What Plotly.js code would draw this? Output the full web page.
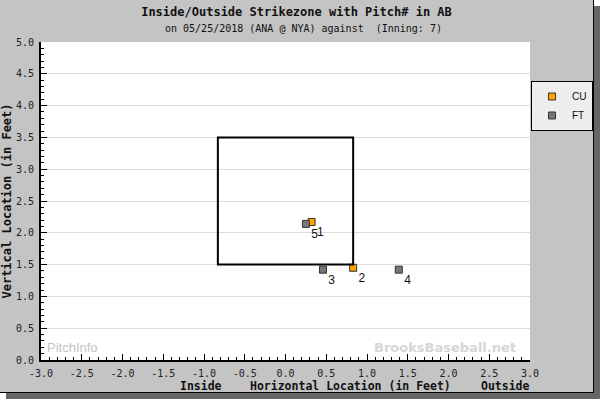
<!DOCTYPE html>
<html>
<head>
<meta charset="utf-8">
<script src="https://cdn.plot.ly/plotly-3.0.1.min.js"></script>
<style>
  html, body { margin: 0; padding: 0; background: #ffffff; }
  #wrap { position: absolute; left: 0; top: 0; width: 593px; height: 392px;
          border-right: 1px solid #000; border-bottom: 1px solid #000;
          box-shadow: 6px 6px 0 #666666; background: #c4c4c4; }
  #chart { width: 593px; height: 392px; }
</style>
</head>
<body>
<div id="wrap"><div id="chart"></div></div>
<script>
// Pitch data
const cuPitchNo = ["1", "2"];
const cuX = [0.32, 0.83];
const cuY = [2.17, 1.45];

const ftPitchNo = ["3", "4", "5"];
const ftX = [0.46, 1.39, 0.25];
const ftY = [1.42, 1.42, 2.14];

// Strike zone bounds
const zoneX = [-0.83, 0.83];
const zoneY = [1.5, 3.5];

// Axis ticks
const xTicks = [-3.0, -2.5, -2.0, -1.5, -1.0, -0.5, 0.0, 0.5, 1.0, 1.5, 2.0, 2.5, 3.0];
const yTicks = [0.0, 0.5, 1.0, 1.5, 2.0, 2.5, 3.0, 3.5, 4.0, 4.5, 5.0];

const mono = "DejaVu Sans Mono, Liberation Mono, monospace";

const traces = [
  {
    name: "CU", type: "scatter", mode: "markers+text",
    x: cuX, y: cuY, text: cuPitchNo, textposition: "bottom right",
    textfont: {family: "Liberation Sans, Arial, sans-serif", size: 12, color: "#111"},
    marker: {symbol: "square", size: 7, color: "#ffa500", line: {color: "#333", width: 1}},
    cliponaxis: false, hoverinfo: "x+y+text"
  },
  {
    name: "FT", type: "scatter", mode: "markers+text",
    x: ftX, y: ftY, text: ftPitchNo, textposition: "bottom right",
    textfont: {family: "Liberation Sans, Arial, sans-serif", size: 12, color: "#111"},
    marker: {symbol: "square", size: 7, color: "#777777", line: {color: "#333", width: 1}},
    cliponaxis: false, hoverinfo: "x+y+text"
  }
];

// plot area in pixels: x 41..530, y 42..360
const px = v => (v - 41) / 489;
const py = v => (360 - v) / 318;

const layout = {
  width: 593, height: 392,
  margin: {l: 41, r: 63, t: 42, b: 32, pad: 0},
  paper_bgcolor: "#c4c4c4",
  plot_bgcolor: "#ffffff",
  showlegend: true,
  title: {
    text: "<b>Inside/Outside Strikezone with Pitch# in AB</b>",
    font: {family: mono, size: 12, color: "#111"},
    x: 0.5, xref: "container", y: 1 - 12/392, yref: "container", yanchor: "middle"
  },
  xaxis: {
    range: [-3, 3], tickvals: xTicks, ticktext: xTicks.map(v => v.toFixed(1)),
    ticks: "inside", ticklen: 6, tickcolor: "#000", tickwidth: 1,
    minor: {dtick: 0.1, tick0: 0, ticks: "inside", ticklen: 3, tickcolor: "#000", showgrid: false},
    showgrid: false, zeroline: false,
    showline: true, linecolor: "#000", linewidth: 2, mirror: false,
    tickfont: {family: mono, size: 10, color: "#222"},
    ticklabelstandoff: 3,
    fixedrange: true
  },
  yaxis: {
    range: [0, 5], tickvals: yTicks, ticktext: yTicks.map(v => v.toFixed(1)),
    ticks: "inside", ticklen: 6, tickcolor: "#000", tickwidth: 1,
    minor: {dtick: 0.1, tick0: 0, ticks: "inside", ticklen: 3, tickcolor: "#000", showgrid: false},
    showgrid: true, gridcolor: "#dddddd", gridwidth: 1, zeroline: false,
    showline: true, linecolor: "#000", linewidth: 2, mirror: false,
    tickfont: {family: mono, size: 10, color: "#222"},
    ticklabelstandoff: 3,
    title: {text: "<b>Vertical Location (in Feet)</b>", font: {family: mono, size: 12, color: "#111"}, standoff: 2},
    fixedrange: true
  },
  legend: {
    xref: "container", yref: "container",
    x: 531 / 593, xanchor: "left", y: 1 - 81 / 392, yanchor: "top",
    bgcolor: "#eeeeee", bordercolor: "#000", borderwidth: 1,
    font: {family: "Liberation Sans, Arial, sans-serif", size: 10, color: "#111"},
    itemwidth: 30, tracegroupgap: 0
  },
  shapes: [
    {type: "rect", xref: "x", yref: "y", x0: zoneX[0], x1: zoneX[1], y0: zoneY[0], y1: zoneY[1],
     line: {color: "#000", width: 2}, fillcolor: "rgba(0,0,0,0)", layer: "above"},
    {type: "rect", xref: "paper", yref: "paper", x0: px(535), x1: px(594), y0: py(131), y1: py(86),
     line: {width: 0}, fillcolor: "#777777", layer: "above"}
  ],
  annotations: [
    {text: "on 05/25/2018 (ANA @ NYA) against  (Inning: 7)", xref: "paper", yref: "paper",
     x: px(303), y: py(29), showarrow: false, xanchor: "center", yanchor: "middle",
     font: {family: mono, size: 10, color: "#111"}},
    {text: "<b>Horizontal Location (in Feet)</b>", xref: "paper", yref: "paper",
     x: px(350), y: py(386), showarrow: false, xanchor: "center", yanchor: "middle",
     font: {family: mono, size: 11.5, color: "#111"}},
    {text: "<b>Inside</b>", xref: "paper", yref: "paper",
     x: px(201), y: py(386), showarrow: false, xanchor: "center", yanchor: "middle",
     font: {family: mono, size: 11.5, color: "#111"}},
    {text: "<b>Outside</b>", xref: "paper", yref: "paper",
     x: px(505), y: py(386), showarrow: false, xanchor: "center", yanchor: "middle",
     font: {family: mono, size: 11.5, color: "#111"}},
    {text: "PitchInfo", xref: "paper", yref: "paper",
     x: px(45), y: py(347), showarrow: false, xanchor: "left", yanchor: "middle",
     font: {family: "Liberation Sans, Arial, sans-serif", size: 13, color: "#c4c4c4"}},
    {text: "<b>BrooksBaseball.net</b>", xref: "paper", yref: "paper",
     x: px(445), y: py(347), showarrow: false, xanchor: "center", yanchor: "middle",
     font: {family: "DejaVu Sans, Verdana, sans-serif", size: 13, color: "#d6d6d6"}}
  ]
};

Plotly.newPlot("chart", traces, layout, {displayModeBar: false, staticPlot: true});
</script>
</body>
</html>
